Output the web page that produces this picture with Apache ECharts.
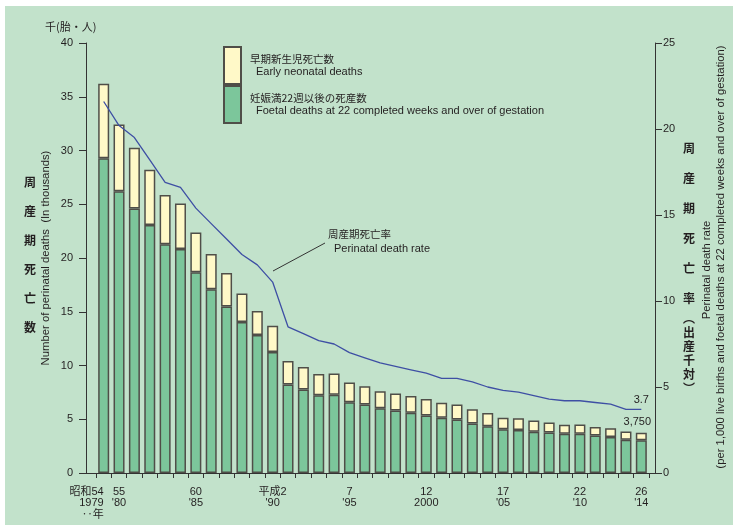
<!DOCTYPE html>
<html>
<head>
<meta charset="utf-8">
<script src="https://cdn.jsdelivr.net/npm/echarts@6/dist/echarts.min.js"></script>
<style>
html,body{margin:0;padding:0;background:#ffffff;}
#bg{position:absolute;left:5px;top:6px;width:728px;height:519px;background:#c2e2cb;}
#chart{position:absolute;left:0;top:0;width:733px;height:525px;}
</style>
</head>
<body>
<div id="bg"></div>
<div id="chart"></div>
<script>
// ---- data (thousands of deaths; rate per 1,000) ----
const years = ['1979','1980','1981','1982','1983','1984','1985','1986','1987','1988','1989','1990',
  '1991','1992','1993','1994','1995','1996','1997','1998','1999','2000','2001','2002','2003','2004',
  '2005','2006','2007','2008','2009','2010','2011','2012','2013','2014'];
const xTickLabels = ['昭和54\n1979\n‥年', '55\n\'80', '', '', '', '', '60\n\'85', '', '', '', '', '平成2\n\'90',
  '', '', '', '', '7\n\'95', '', '', '', '', '12\n2000', '', '', '', '', '17\n\'05', '', '', '', '',
  '22\n\'10', '', '', '', '26\n\'14'];
const foetalDeaths = [29.27, 26.20, 24.60, 23.07, 21.27, 20.84, 18.67, 17.10, 15.50, 14.05, 12.84, 11.26,
  8.23, 7.77, 7.24, 7.27, 6.58, 6.37, 6.03, 5.81, 5.60, 5.36, 5.13, 4.97, 4.60, 4.36,
  4.06, 4.01, 3.83, 3.77, 3.64, 3.64, 3.49, 3.36, 3.10, 3.04];
const earlyNeonatalDeaths = [6.93, 6.22, 5.66, 5.13, 4.59, 4.24, 3.71, 3.27, 3.10, 2.65, 2.23, 2.44,
  2.20, 2.10, 1.98, 1.98, 1.83, 1.70, 1.58, 1.58, 1.57, 1.52, 1.40, 1.40, 1.34, 1.21,
  1.09, 1.09, 1.05, 0.93, 0.84, 0.88, 0.80, 0.81, 0.76, 0.71];
const perinatalRate = [21.6, 20.2, 19.5, 18.2, 16.9, 16.6, 15.4, 14.5, 13.6, 12.7, 12.1, 11.1,
  8.5, 8.1, 7.7, 7.5, 7.0, 6.7, 6.4, 6.2, 6.0, 5.8, 5.5, 5.5, 5.3, 5.0,
  4.8, 4.7, 4.5, 4.3, 4.2, 4.2, 4.1, 4.0, 3.7, 3.7];
const leftTicks = {min: 0, max: 40, interval: 5};
const rightTicks = {min: 0, max: 25, interval: 5};
const seriesNames = {foetal: '妊娠満22週以後の死産数', early: '早期新生児死亡数'};
const seriesNamesEn = {foetal: 'Foetal deaths at 22 completed weeks and over of gestation', early: 'Early neonatal deaths'};

// ---- chart ----
const JP = '"Noto Sans CJK JP", sans-serif';
const EN = '"Liberation Sans", Arial, sans-serif';
const TXT = '#231f20';
const chart = echarts.init(document.getElementById('chart'));
const last = years.length - 1;
const totalLast = Math.round((foetalDeaths[last] + earlyNeonatalDeaths[last]) * 1000);

const barBorder = {borderColor: '#4f4e48', borderWidth: 1.5};
const enByJp = {};
enByJp[seriesNames.foetal] = seriesNamesEn.foetal;
enByJp[seriesNames.early] = seriesNamesEn.early;

const option = {
  animation: false,
  backgroundColor: 'transparent',
  grid: [
    {left: 96, right: 84, top: 43, bottom: 52},
    {left: 86, right: 78, top: 43, bottom: 52}
  ],
  legend: {
    data: [seriesNames.early, seriesNames.foetal],
    orient: 'vertical',
    left: 223, top: 46, padding: 0,
    itemWidth: 17, itemHeight: 37, itemGap: 0,
    icon: 'rect',
    selectedMode: false,
    formatter: n => '{jp|' + n + '}\n{en|' + enByJp[n] + '}',
    textStyle: {
      rich: {
        jp: {fontFamily: JP, fontSize: 10.5, color: TXT, lineHeight: 13, padding: [0, 0, 0, 4]},
        en: {fontFamily: EN, fontSize: 11, color: TXT, lineHeight: 13, padding: [0, 0, 0, 10]}
      }
    }
  },
  xAxis: [
    {
      type: 'category', gridIndex: 0,
      data: years.map((y, i) => i === 0 ? {value: y, textStyle: {align: 'right'}} : {value: y}),
      axisLine: {show: false},
      axisTick: {show: true, interval: 0, alignWithLabel: false, length: 5, lineStyle: {color: '#333', width: 1}},
      axisLabel: {
        interval: 0, margin: 13, color: TXT, fontFamily: EN + ',' + JP, fontSize: 11, lineHeight: 11.5,
        formatter: (v, i) => xTickLabels[i]
      }
    },
    {
      type: 'value', gridIndex: 1, min: 0, max: 1,
      axisLine: {show: true, onZero: false, lineStyle: {color: '#333', width: 1}},
      axisTick: {show: false}, axisLabel: {show: false}, splitLine: {show: false}
    }
  ],
  yAxis: [
    {
      type: 'value', gridIndex: 0, position: 'left', offset: 10,
      min: leftTicks.min, max: leftTicks.max, interval: leftTicks.interval,
      axisLine: {show: true, lineStyle: {color: '#333', width: 1}},
      axisTick: {show: true, length: 7, lineStyle: {color: '#333'}},
      axisLabel: {color: TXT, fontFamily: EN, fontSize: 11, margin: 13},
      splitLine: {show: false}
    },
    {
      type: 'value', gridIndex: 0, position: 'right', offset: 6,
      min: rightTicks.min, max: rightTicks.max, interval: rightTicks.interval,
      axisLine: {show: true, lineStyle: {color: '#333', width: 1}},
      axisTick: {show: true, length: 7, lineStyle: {color: '#333'}},
      axisLabel: {color: TXT, fontFamily: EN, fontSize: 11, margin: 8},
      splitLine: {show: false}
    },
    {
      type: 'value', gridIndex: 1, show: false, min: 0, max: 1
    }
  ],
  series: [
    {
      name: seriesNames.foetal, type: 'bar', stack: 'deaths', barWidth: 11,
      xAxisIndex: 0, yAxisIndex: 0,
      itemStyle: Object.assign({color: '#7cc69b'}, barBorder),
      data: foetalDeaths
    },
    {
      name: seriesNames.early, type: 'bar', stack: 'deaths', barWidth: 11,
      xAxisIndex: 0, yAxisIndex: 0,
      itemStyle: Object.assign({color: '#fff9c8'}, barBorder),
      data: earlyNeonatalDeaths.map((v, i) => i === last ? {
        value: v,
        label: {show: true, position: 'top', distance: 5, offset: [-4, 0], color: TXT, fontFamily: EN, fontSize: 11,
          formatter: () => totalLast.toLocaleString('en-US')}
      } : v)
    },
    {
      name: 'perinatal rate', type: 'line', xAxisIndex: 0, yAxisIndex: 1,
      symbol: 'none', z: 5,
      lineStyle: {color: '#3e4fa4', width: 1.3},
      data: perinatalRate.map((v, i) => i === last ? {
        value: v, symbol: 'circle', symbolSize: 0.1,
        label: {show: true, position: 'top', distance: 4, color: TXT, fontFamily: EN, fontSize: 11, formatter: '{c}'}
      } : v)
    }
  ],
  graphic: [
    {type: 'text', left: 45, top: 21, style: {text: '千(胎・人)', font: '11px ' + JP, fill: TXT}},
    {type: 'text', left: 24, top: 168, style: {text: '周\n産\n期\n死\n亡\n数', font: 'bold 12px ' + JP, fill: TXT, lineHeight: 29}},
    {type: 'text', x: 46, y: 258, rotation: Math.PI / 2,
      style: {text: 'Number of perinatal deaths  (In thousands)', font: '11.3px ' + EN, fill: TXT, align: 'center', verticalAlign: 'middle'}},
    {type: 'text', left: 683, top: 133, style: {text: '周\n産\n期\n死\n亡\n率', font: 'bold 12px ' + JP, fill: TXT, lineHeight: 30}},
    {type: 'text', left: 683, top: 311, style: {text: '︵\n出\n産\n千\n対\n︶', font: 'bold 12px ' + JP, fill: TXT, lineHeight: 14}},
    {type: 'text', x: 707, y: 270, rotation: Math.PI / 2,
      style: {text: 'Perinatal death rate', font: '11.3px ' + EN, fill: TXT, align: 'center', verticalAlign: 'middle'}},
    {type: 'text', x: 721, y: 257, rotation: Math.PI / 2,
      style: {text: '(per 1,000 live births and foetal deaths at 22 completed weeks and over of gestation)', font: '11.3px ' + EN, fill: TXT, align: 'center', verticalAlign: 'middle'}},
    {type: 'text', left: 328, top: 229, style: {text: '周産期死亡率', font: '10.5px ' + JP, fill: TXT}},
    {type: 'text', left: 334, top: 243, style: {text: 'Perinatal death rate', font: '11px ' + EN, fill: TXT}},
    {type: 'line', shape: {x1: 325, y1: 243, x2: 273, y2: 271}, style: {stroke: '#333', lineWidth: 1}}
  ]
};
chart.setOption(option);
</script>
</body>
</html>
